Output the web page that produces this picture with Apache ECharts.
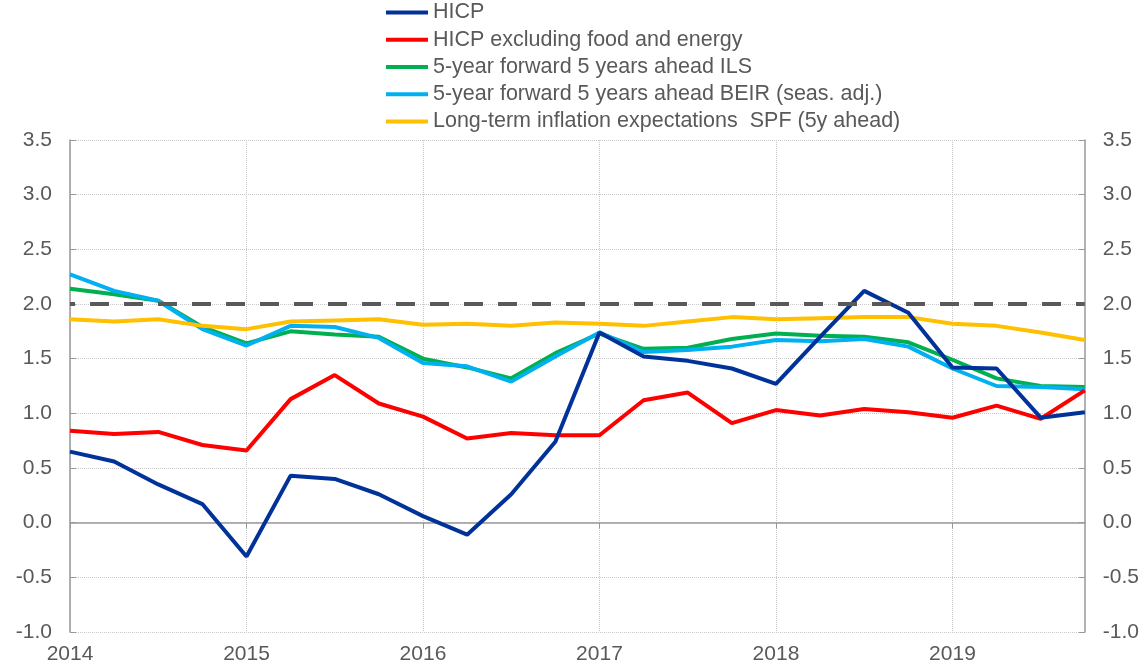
<!DOCTYPE html>
<html>
<head>
<meta charset="utf-8">
<script src="https://cdn.jsdelivr.net/npm/echarts@6/dist/echarts.min.js"></script>
<style>
  html, body { margin: 0; padding: 0; background: #fff; }
  #chart { width: 1142px; height: 665px; }
</style>
</head>
<body>
<div id="chart"></div>
<script>
// quarterly observations, 2014Q1 .. 2019Q4
const quarters = [
  '2014Q1', '2014Q2', '2014Q3', '2014Q4', '2015Q1', '2015Q2', '2015Q3', '2015Q4',
  '2016Q1', '2016Q2', '2016Q3', '2016Q4', '2017Q1', '2017Q2', '2017Q3', '2017Q4',
  '2018Q1', '2018Q2', '2018Q3', '2018Q4', '2019Q1', '2019Q2', '2019Q3', '2019Q4',
];
const hicp = [0.65, 0.56, 0.35, 0.17, -0.31, 0.43, 0.40, 0.26, 0.06, -0.11, 0.26, 0.74,
  1.74, 1.52, 1.48, 1.41, 1.27, 1.70, 2.12, 1.92, 1.42, 1.41, 0.96, 1.01];
const hicpCore = [0.84, 0.81, 0.83, 0.71, 0.66, 1.13, 1.35, 1.09, 0.97, 0.77, 0.82, 0.80,
  0.80, 1.12, 1.19, 0.91, 1.03, 0.98, 1.04, 1.01, 0.96, 1.07, 0.95, 1.21];
const ils = [2.14, 2.09, 2.03, 1.79, 1.64, 1.75, 1.72, 1.70, 1.50, 1.42, 1.32, 1.55,
  1.73, 1.59, 1.60, 1.68, 1.73, 1.71, 1.70, 1.65, 1.49, 1.32, 1.25, 1.24];
const beir = [2.27, 2.12, 2.03, 1.77, 1.62, 1.80, 1.79, 1.69, 1.46, 1.43, 1.29, 1.52,
  1.74, 1.56, 1.58, 1.61, 1.67, 1.66, 1.68, 1.61, 1.41, 1.25, 1.24, 1.22];
const spf = [1.86, 1.84, 1.86, 1.80, 1.77, 1.84, 1.85, 1.86, 1.81, 1.82, 1.80, 1.83,
  1.82, 1.80, 1.84, 1.88, 1.86, 1.87, 1.88, 1.88, 1.82, 1.80, 1.74, 1.67];
const target = 2.0;

const names = [
  'HICP',
  'HICP excluding food and energy',
  '5-year forward 5 years ahead ILS',
  '5-year forward 5 years ahead BEIR (seas. adj.)',
  'Long-term inflation expectations  SPF (5y ahead)',
];

const font = 'Liberation Sans, Arial, sans-serif';
const grey = '#999999';
const textGrey = '#595959';

const chart = echarts.init(document.getElementById('chart'));

function line(name, data, color) {
  return {
    name,
    type: 'line',
    data,
    symbol: 'none',
    lineStyle: { color, width: 4 },
    itemStyle: { color },
  };
}

const yAxisBase = {
  type: 'value',
  min: -1,
  max: 3.5,
  interval: 0.5,
  axisLine: { show: true, lineStyle: { color: grey, width: 1.5 } },
  axisTick: { show: true, inside: true, length: 6, lineStyle: { color: grey } },
  axisLabel: {
    fontFamily: font,
    fontSize: 21,
    color: textGrey,
    margin: 18,
    formatter: (v) => v.toFixed(1),
  },
};

const option = {
  animation: false,
  backgroundColor: '#fff',
  legend: {
    orient: 'vertical',
    left: 386,
    top: 1.5,
    padding: 0,
    icon: 'rect',
    itemWidth: 42,
    itemHeight: 4,
    itemGap: 5.25,
    data: names,
    textStyle: { fontFamily: font, fontSize: 21.5, color: textGrey, lineHeight: 22 },
  },
  grid: { left: 70, right: 57, top: 140, bottom: 33 },
  xAxis: [
    {
      type: 'category',
      data: quarters,
      boundaryGap: false,
      position: 'bottom',
      axisLine: { show: false, onZero: false },
      axisTick: { show: false },
      axisLabel: {
        interval: 3,
        margin: 12,
        fontFamily: font,
        fontSize: 21,
        color: textGrey,
        formatter: (v) => v.slice(0, 4),
      },
      splitLine: {
        show: true,
        interval: 3,
        lineStyle: { color: '#c8c8c8', type: 'dotted', width: 1 },
      },
    },
    {
      type: 'category',
      data: quarters,
      boundaryGap: false,
      position: 'top',
      axisLine: { show: true, onZero: true, onZeroAxisIndex: 0, lineStyle: { color: grey, width: 1.5 } },
      axisTick: { show: true, inside: true, interval: 3, length: 6, lineStyle: { color: grey } },
      axisLabel: { show: false },
      splitLine: { show: false },
    },
  ],
  yAxis: [
    Object.assign({}, yAxisBase, {
      position: 'left',
      splitLine: { show: true, lineStyle: { color: '#c8c8c8', type: 'dotted', width: 1 } },
    }),
    Object.assign({}, yAxisBase, {
      position: 'right',
      splitLine: { show: false },
    }),
  ],
  series: [
    line(names[2], ils, '#00b050'),
    line(names[3], beir, '#00b0f0'),
    line(names[4], spf, '#ffc000'),
    line(names[1], hicpCore, '#ff0000'),
    Object.assign(line(names[0], hicp, '#003299'), {
      markLine: {
        silent: true,
        symbol: 'none',
        label: { show: false },
        lineStyle: { color: '#595959', width: 4, type: [19, 15], dashOffset: 14 },
        data: [{ yAxis: target }],
      },
    }),
  ],
};

chart.setOption(option);
</script>
</body>
</html>
